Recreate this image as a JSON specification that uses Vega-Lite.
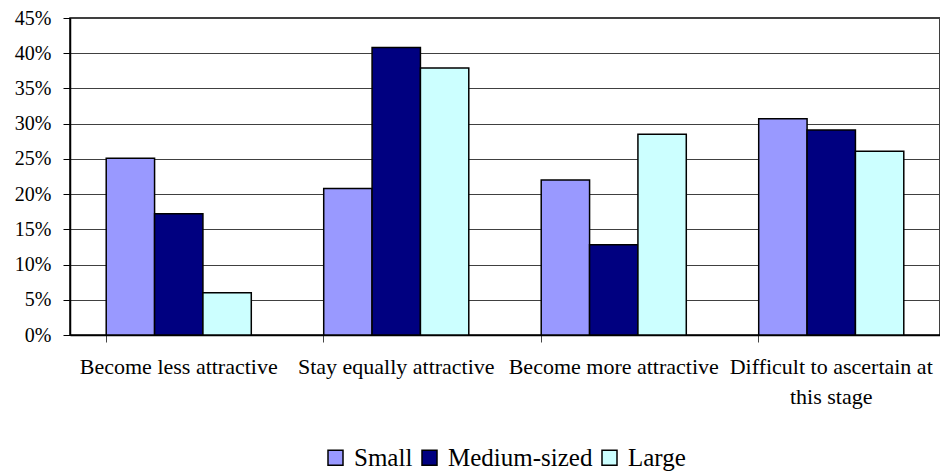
{
  "$schema": "https://vega.github.io/schema/vega-lite/v6.json",
  "autosize": "none",
  "width": 870,
  "height": 317,
  "padding": {"left": 70, "top": 18, "right": 0, "bottom": 137},
  "background": "white",
  "data": {
    "values": [
      {"answer": "Become less attractive", "size": "Small", "share": 0.251},
      {"answer": "Become less attractive", "size": "Medium-sized", "share": 0.172},
      {"answer": "Become less attractive", "size": "Large", "share": 0.060},
      {"answer": "Stay equally attractive", "size": "Small", "share": 0.208},
      {"answer": "Stay equally attractive", "size": "Medium-sized", "share": 0.408},
      {"answer": "Stay equally attractive", "size": "Large", "share": 0.379},
      {"answer": "Become more attractive", "size": "Small", "share": 0.220},
      {"answer": "Become more attractive", "size": "Medium-sized", "share": 0.128},
      {"answer": "Become more attractive", "size": "Large", "share": 0.285},
      {"answer": "Difficult to ascertain at this stage", "size": "Small", "share": 0.307},
      {"answer": "Difficult to ascertain at this stage", "size": "Medium-sized", "share": 0.291},
      {"answer": "Difficult to ascertain at this stage", "size": "Large", "share": 0.261}
    ]
  },
  "config": {
    "view": {"stroke": "black", "strokeWidth": 1.5},
    "font": "Liberation Serif"
  },
  "mark": {"type": "bar", "stroke": "black", "strokeWidth": 1.5},
  "encoding": {
    "x": {
      "field": "answer",
      "type": "nominal",
      "sort": ["Become less attractive", "Stay equally attractive", "Become more attractive", "Difficult to ascertain at this stage"],
      "scale": {"paddingInner": 0.333, "paddingOuter": 0.1665},
      "axis": {
        "title": null,
        "labelAngle": 0,
        "labelFont": "Liberation Serif",
        "labelFontSize": 22,
        "labelColor": "black",
        "labelPadding": 14,
        "labelBaseline": "top",
        "labelLineHeight": 30,
        "labelLimit": 300,
        "labelExpr": "datum.label == 'Difficult to ascertain at this stage' ? ['Difficult to ascertain at', 'this stage'] : datum.label",
        "bandPosition": 0,
        "ticks": true,
        "tickSize": 7,
        "tickColor": "#444444",
        "domainColor": "black",
        "domainWidth": 1.5,
        "grid": false
      }
    },
    "xOffset": {
      "field": "size",
      "type": "nominal",
      "sort": ["Small", "Medium-sized", "Large"],
      "scale": {"paddingInner": 0, "paddingOuter": 0}
    },
    "y": {
      "field": "share",
      "type": "quantitative",
      "scale": {"domain": [0, 0.45], "nice": false},
      "axis": {
        "title": null,
        "values": [0, 0.05, 0.1, 0.15, 0.2, 0.25, 0.3, 0.35, 0.4, 0.45],
        "format": ".0%",
        "labelFont": "Liberation Serif",
        "labelFontSize": 20,
        "labelColor": "black",
        "labelPadding": 12,
        "tickSize": 7,
        "tickColor": "black",
        "domainColor": "black",
        "domainWidth": 1.5,
        "grid": true,
        "gridColor": "#404040",
        "gridWidth": 1
      }
    },
    "color": {
      "field": "size",
      "type": "nominal",
      "sort": ["Small", "Medium-sized", "Large"],
      "scale": {"domain": ["Small", "Medium-sized", "Large"], "range": ["#9999FF", "#000080", "#CCFFFF"]},
      "legend": {
        "title": null,
        "orient": "none",
        "legendX": 253,
        "legendY": 427,
        "direction": "horizontal",
        "symbolType": "square",
        "symbolSize": 225,
        "symbolStrokeColor": "black",
        "symbolStrokeWidth": 1.5,
        "symbolOpacity": 1,
        "labelFont": "Liberation Serif",
        "labelFontSize": 25,
        "labelColor": "black",
        "labelOffset": 6,
        "columnPadding": 4,
        "symbolOffset": 0
      }
    }
  }
}
